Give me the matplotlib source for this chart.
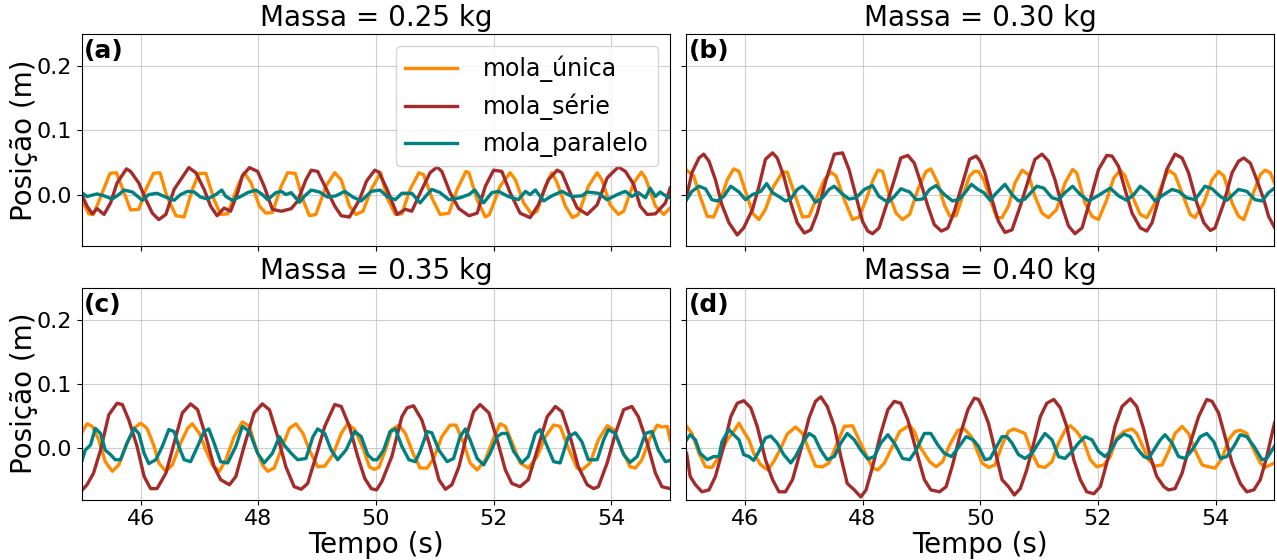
import matplotlib
matplotlib.use('Agg')
import matplotlib.pyplot as plt
import numpy as np

# valores: (tempo em s, posicao em m)
massas = ['0.25', '0.30', '0.35', '0.40']
letras = ['(a)', '(b)', '(c)', '(d)']
nomes = ['mola_única', 'mola_série', 'mola_paralelo']
cores = ['#FF8C00', '#A52A2A', '#008080']

a_unica = np.array([
    (45.00, -0.008), (45.12, -0.030), (45.20, -0.031), (45.35, 0.003), (45.48, 0.033), (45.59, 0.034),
    (45.72, 0.003), (45.83, -0.024), (45.97, -0.023), (46.09, 0.008), (46.22, 0.033), (46.33, 0.034),
    (46.45, -0.003), (46.60, -0.033), (46.74, -0.035), (46.88, 0.008), (46.99, 0.033), (47.11, 0.033),
    (47.25, -0.008), (47.36, -0.031), (47.48, -0.030), (47.65, 0.013), (47.76, 0.034), (47.88, 0.018),
    (48.02, -0.018), (48.13, -0.029), (48.24, -0.028), (48.39, 0.013), (48.50, 0.034), (48.63, 0.033),
    (48.76, -0.008), (48.87, -0.033), (48.98, -0.031), (49.15, 0.013), (49.30, 0.034), (49.41, 0.023),
    (49.55, -0.018), (49.66, -0.031), (49.78, -0.026), (49.92, 0.008), (50.08, 0.034), (50.19, -0.005),
    (50.33, -0.031), (50.44, -0.030), (50.58, 0.008), (50.73, 0.034), (50.81, 0.031), (50.95, -0.005),
    (51.09, -0.031), (51.24, -0.029), (51.38, 0.008), (51.53, 0.036), (51.58, 0.034), (51.72, -0.008),
    (51.86, -0.035), (51.93, -0.031), (52.11, 0.013), (52.28, 0.034), (52.37, 0.023), (52.51, -0.013),
    (52.65, -0.031), (52.74, -0.026), (52.88, 0.013), (52.99, 0.034), (53.08, 0.018), (53.22, -0.018),
    (53.34, -0.036), (53.44, -0.031), (53.61, 0.013), (53.76, 0.034), (53.84, 0.023), (53.98, -0.016),
    (54.12, -0.031), (54.21, -0.026), (54.38, 0.018), (54.51, 0.035), (54.58, 0.026), (54.75, -0.018),
    (54.89, -0.031), (55.00, -0.021)])

a_serie = np.array([
    (45.00, 0.000), (45.09, -0.018), (45.18, -0.030), (45.26, -0.022), (45.38, -0.031), (45.49, -0.013),
    (45.60, 0.018), (45.76, 0.040), (45.83, 0.036), (45.97, 0.018), (46.09, -0.008), (46.20, -0.029),
    (46.31, -0.039), (46.43, -0.031), (46.57, 0.008), (46.68, 0.023), (46.82, 0.042), (46.94, 0.034),
    (47.08, 0.008), (47.19, -0.018), (47.30, -0.033), (47.42, -0.021), (47.53, -0.026), (47.65, 0.003),
    (47.73, 0.029), (47.85, 0.042), (47.99, 0.036), (48.10, 0.013), (48.24, -0.023), (48.39, -0.026),
    (48.56, -0.022), (48.67, -0.010), (48.81, 0.023), (48.90, 0.038), (49.01, 0.036), (49.15, 0.010),
    (49.30, -0.018), (49.41, -0.033), (49.55, -0.035), (49.72, -0.008), (49.84, 0.021), (49.98, 0.038),
    (50.05, 0.035), (50.19, 0.008), (50.36, -0.031), (50.50, -0.023), (50.61, -0.026), (50.78, 0.008),
    (50.92, 0.034), (51.04, 0.043), (51.12, 0.036), (51.26, 0.003), (51.41, -0.022), (51.58, -0.033),
    (51.72, -0.029), (51.86, 0.013), (52.00, 0.038), (52.14, 0.036), (52.28, 0.003), (52.45, -0.029),
    (52.62, -0.036), (52.76, -0.016), (52.93, 0.023), (53.08, 0.038), (53.16, 0.034), (53.30, 0.003),
    (53.42, -0.021), (53.59, -0.031), (53.76, -0.016), (53.93, 0.026), (54.12, 0.043), (54.24, 0.036),
    (54.38, 0.016), (54.49, -0.018), (54.61, -0.031), (54.75, -0.030), (54.92, -0.013), (55.00, 0.010)])

a_paralelo = np.array([
    (45.00, 0.003), (45.09, -0.003), (45.26, 0.001), (45.38, -0.002), (45.52, -0.007), (45.63, 0.000),
    (45.72, 0.007), (45.86, 0.004), (46.03, -0.009), (46.14, 0.000), (46.28, 0.002), (46.43, -0.004),
    (46.57, -0.009), (46.68, 0.000), (46.80, 0.005), (46.91, 0.004), (47.02, -0.004), (47.14, -0.007),
    (47.28, 0.000), (47.38, 0.007), (47.45, -0.003), (47.56, -0.009), (47.70, -0.003), (47.82, 0.003),
    (47.96, 0.007), (48.07, 0.000), (48.16, -0.008), (48.30, 0.003), (48.39, 0.005), (48.47, 0.000),
    (48.56, 0.003), (48.70, -0.012), (48.78, -0.003), (48.90, 0.007), (49.04, 0.004), (49.18, -0.004),
    (49.32, -0.002), (49.47, 0.005), (49.61, -0.004), (49.75, -0.010), (49.92, 0.005), (50.07, 0.007),
    (50.19, -0.003), (50.33, -0.008), (50.44, 0.002), (50.61, 0.002), (50.75, -0.013), (50.87, 0.000),
    (50.95, 0.008), (51.09, 0.003), (51.24, -0.008), (51.43, -0.005), (51.58, 0.000), (51.68, 0.007),
    (51.83, -0.013), (51.97, 0.003), (52.08, 0.005), (52.25, -0.003), (52.42, -0.008), (52.54, 0.005),
    (52.62, 0.000), (52.71, 0.007), (52.85, -0.010), (52.99, -0.002), (53.16, 0.005), (53.33, -0.003),
    (53.50, -0.002), (53.59, 0.004), (53.78, 0.002), (53.93, -0.008), (54.10, 0.000), (54.24, 0.005),
    (54.35, -0.003), (54.46, 0.003), (54.58, -0.005), (54.66, 0.010), (54.75, -0.003), (54.83, 0.004),
    (54.97, -0.005), (55.00, -0.004)])

b_unica = np.array([
    (45.01, 0.038), (45.13, 0.029), (45.24, -0.003), (45.36, -0.034), (45.47, -0.035), (45.59, -0.008),
    (45.70, 0.023), (45.81, 0.040), (45.90, 0.036), (46.04, -0.003), (46.13, -0.029), (46.24, -0.039),
    (46.35, -0.023), (46.49, 0.013), (46.64, 0.035), (46.72, 0.035), (46.86, -0.003), (46.98, -0.035),
    (47.09, -0.034), (47.23, -0.003), (47.35, 0.023), (47.46, 0.035), (47.55, 0.029), (47.69, -0.008),
    (47.83, -0.039), (47.94, -0.035), (48.06, -0.008), (48.17, 0.021), (48.26, 0.038), (48.34, 0.036),
    (48.45, 0.000), (48.57, -0.029), (48.68, -0.039), (48.80, -0.031), (48.94, 0.008), (49.08, 0.036),
    (49.16, 0.040), (49.28, 0.018), (49.39, -0.016), (49.48, -0.033), (49.59, -0.033), (49.70, -0.003),
    (49.82, 0.029), (49.90, 0.036), (49.97, 0.036), (50.06, 0.023), (50.17, -0.008), (50.28, -0.036),
    (50.37, -0.036), (50.48, -0.018), (50.59, 0.018), (50.71, 0.038), (50.82, 0.031), (50.93, -0.003),
    (51.05, -0.029), (51.16, -0.036), (51.30, -0.023), (51.44, 0.018), (51.57, 0.039), (51.64, 0.034),
    (51.78, -0.013), (51.90, -0.034), (52.01, -0.039), (52.15, -0.008), (52.27, 0.026), (52.38, 0.038),
    (52.46, 0.029), (52.61, -0.008), (52.72, -0.031), (52.83, -0.036), (52.97, -0.013), (53.12, 0.023),
    (53.20, 0.038), (53.31, 0.031), (53.46, -0.005), (53.57, -0.031), (53.65, -0.036), (53.80, -0.013),
    (53.94, 0.023), (54.05, 0.036), (54.14, 0.029), (54.28, -0.013), (54.39, -0.034), (54.48, -0.039),
    (54.62, -0.003), (54.76, 0.031), (54.84, 0.038), (54.93, 0.034), (55.00, 0.018)])

b_serie = np.array([
    (45.01, -0.003), (45.10, 0.034), (45.22, 0.057), (45.30, 0.063), (45.39, 0.052), (45.50, 0.023),
    (45.61, -0.016), (45.73, -0.044), (45.87, -0.063), (45.98, -0.052), (46.13, -0.023), (46.24, 0.013),
    (46.35, 0.055), (46.47, 0.065), (46.55, 0.057), (46.66, 0.029), (46.78, -0.013), (46.89, -0.044),
    (47.01, -0.060), (47.12, -0.055), (47.23, -0.029), (47.38, 0.023), (47.52, 0.063), (47.66, 0.065),
    (47.77, 0.039), (47.89, -0.003), (48.00, -0.042), (48.09, -0.057), (48.17, -0.061), (48.28, -0.052),
    (48.40, -0.018), (48.54, 0.023), (48.65, 0.057), (48.77, 0.061), (48.88, 0.049), (48.99, 0.018),
    (49.11, -0.018), (49.22, -0.047), (49.34, -0.057), (49.45, -0.052), (49.56, -0.026), (49.70, 0.018),
    (49.82, 0.055), (49.93, 0.060), (50.00, 0.052), (50.08, 0.034), (50.20, -0.008), (50.31, -0.042),
    (50.42, -0.059), (50.54, -0.055), (50.68, -0.018), (50.82, 0.023), (50.93, 0.055), (51.05, 0.063),
    (51.16, 0.052), (51.27, 0.023), (51.39, -0.018), (51.50, -0.049), (51.61, -0.061), (51.73, -0.052),
    (51.87, -0.008), (52.01, 0.039), (52.15, 0.061), (52.24, 0.060), (52.35, 0.044), (52.46, 0.008),
    (52.58, -0.029), (52.72, -0.052), (52.83, -0.057), (52.92, -0.044), (53.03, -0.008), (53.17, 0.039),
    (53.31, 0.063), (53.43, 0.057), (53.54, 0.034), (53.68, -0.013), (53.80, -0.044), (53.91, -0.056),
    (53.99, -0.052), (54.14, -0.013), (54.28, 0.034), (54.39, 0.052), (54.48, 0.057), (54.59, 0.049),
    (54.70, 0.023), (54.82, -0.008), (54.90, -0.034), (55.00, -0.051)])

b_paralelo = np.array([
    (45.01, -0.008), (45.10, 0.005), (45.22, 0.013), (45.33, 0.009), (45.44, -0.008), (45.53, -0.010),
    (45.64, -0.003), (45.76, 0.013), (45.90, 0.004), (46.01, -0.008), (46.13, 0.000), (46.27, 0.005),
    (46.37, 0.017), (46.47, 0.003), (46.61, -0.005), (46.69, -0.010), (46.78, -0.007), (46.89, 0.008),
    (46.98, 0.013), (47.09, 0.003), (47.20, -0.012), (47.32, -0.005), (47.43, 0.008), (47.52, 0.013),
    (47.63, 0.003), (47.77, -0.007), (47.89, -0.005), (48.03, 0.008), (48.17, 0.014), (48.28, -0.003),
    (48.43, -0.012), (48.54, -0.003), (48.65, 0.009), (48.80, 0.004), (48.91, -0.008), (49.02, -0.007),
    (49.14, 0.008), (49.25, 0.014), (49.39, 0.000), (49.53, -0.010), (49.65, -0.007), (49.76, 0.005),
    (49.85, 0.016), (49.96, 0.008), (50.06, 0.003), (50.17, -0.009), (50.25, 0.000), (50.42, 0.016),
    (50.54, 0.000), (50.65, -0.010), (50.76, -0.007), (50.96, 0.013), (51.08, 0.010), (51.22, -0.005),
    (51.33, -0.008), (51.44, 0.003), (51.57, 0.013), (51.70, 0.000), (51.84, -0.010), (51.98, -0.003),
    (52.12, 0.005), (52.21, 0.010), (52.35, -0.002), (52.49, -0.009), (52.61, 0.000), (52.72, 0.013),
    (52.86, 0.003), (52.97, -0.010), (53.12, 0.000), (53.26, 0.008), (53.37, 0.005), (53.51, -0.005),
    (53.65, -0.008), (53.82, 0.013), (53.94, 0.009), (54.08, -0.003), (54.19, -0.009), (54.39, 0.008),
    (54.53, 0.005), (54.67, -0.008), (54.79, -0.010), (54.90, 0.003), (55.00, 0.010)])

c_unica = np.array([
    (45.01, 0.026), (45.09, 0.038), (45.18, 0.034), (45.29, 0.013), (45.40, -0.021), (45.52, -0.036),
    (45.63, -0.026), (45.77, 0.008), (45.89, 0.031), (46.00, 0.039), (46.11, 0.031), (46.23, 0.003),
    (46.31, -0.023), (46.43, -0.036), (46.54, -0.026), (46.68, 0.008), (46.80, 0.031), (46.88, 0.038),
    (47.00, 0.023), (47.11, -0.003), (47.22, -0.026), (47.34, -0.036), (47.45, -0.018), (47.59, 0.018),
    (47.73, 0.041), (47.85, 0.034), (47.96, 0.000), (48.07, -0.026), (48.16, -0.036), (48.27, -0.031),
    (48.41, 0.003), (48.53, 0.031), (48.64, 0.038), (48.76, 0.023), (48.87, -0.003), (49.01, -0.029),
    (49.13, -0.028), (49.27, -0.010), (49.41, 0.023), (49.52, 0.038), (49.64, 0.029), (49.78, 0.000),
    (49.89, -0.029), (49.97, -0.033), (50.05, -0.030), (50.16, -0.003), (50.27, 0.029), (50.39, 0.036),
    (50.50, 0.023), (50.64, -0.010), (50.75, -0.031), (50.87, -0.031), (50.98, -0.016), (51.12, 0.018),
    (51.26, 0.036), (51.36, 0.036), (51.49, 0.008), (51.60, -0.023), (51.72, -0.034), (51.86, -0.018),
    (52.00, 0.016), (52.11, 0.038), (52.20, 0.034), (52.34, 0.003), (52.45, -0.023), (52.59, -0.031),
    (52.74, -0.013), (52.88, 0.018), (53.02, 0.036), (53.13, 0.034), (53.27, 0.000), (53.42, -0.031),
    (53.50, -0.034), (53.64, -0.023), (53.78, 0.013), (53.93, 0.035), (54.04, 0.029), (54.18, -0.003),
    (54.32, -0.029), (54.41, -0.031), (54.52, -0.018), (54.66, 0.016), (54.78, 0.036), (54.86, 0.033),
    (54.95, 0.034), (55.00, 0.013)])

c_serie = np.array([
    (45.01, -0.065), (45.09, -0.057), (45.20, -0.039), (45.32, -0.003), (45.46, 0.052), (45.60, 0.070),
    (45.69, 0.068), (45.80, 0.044), (45.94, 0.003), (46.06, -0.044), (46.17, -0.063), (46.28, -0.063),
    (46.43, -0.039), (46.57, 0.008), (46.71, 0.055), (46.85, 0.069), (46.97, 0.060), (47.11, 0.018),
    (47.25, -0.029), (47.36, -0.049), (47.51, -0.057), (47.62, -0.044), (47.76, 0.003), (47.93, 0.055),
    (48.07, 0.069), (48.19, 0.060), (48.33, 0.018), (48.47, -0.029), (48.61, -0.060), (48.73, -0.064),
    (48.84, -0.055), (48.98, -0.013), (49.13, 0.034), (49.30, 0.068), (49.41, 0.065), (49.55, 0.034),
    (49.69, -0.013), (49.81, -0.047), (49.92, -0.063), (50.01, -0.065), (50.10, -0.052), (50.27, -0.013),
    (50.44, 0.049), (50.53, 0.063), (50.64, 0.066), (50.78, 0.044), (50.92, 0.003), (51.07, -0.049),
    (51.18, -0.064), (51.29, -0.057), (51.41, -0.029), (51.55, 0.023), (51.66, 0.057), (51.77, 0.068),
    (51.92, 0.055), (52.06, 0.013), (52.20, -0.034), (52.31, -0.055), (52.45, -0.060), (52.59, -0.049),
    (52.76, 0.003), (52.91, 0.049), (53.05, 0.065), (53.16, 0.057), (53.30, 0.018), (53.44, -0.029),
    (53.59, -0.057), (53.70, -0.063), (53.78, -0.060), (53.93, -0.023), (54.07, 0.023), (54.21, 0.060),
    (54.35, 0.065), (54.46, 0.049), (54.61, 0.008), (54.75, -0.039), (54.86, -0.060), (55.00, -0.063)])

c_paralelo = np.array([
    (45.01, -0.018), (45.06, -0.003), (45.15, 0.005), (45.23, 0.031), (45.32, 0.023), (45.40, -0.003),
    (45.49, -0.010), (45.57, -0.018), (45.66, -0.018), (45.77, 0.008), (45.89, 0.031), (45.97, 0.023),
    (46.06, -0.008), (46.14, -0.024), (46.26, -0.018), (46.37, 0.003), (46.48, 0.029), (46.57, 0.026),
    (46.65, 0.003), (46.74, -0.018), (46.85, -0.021), (46.97, 0.003), (47.08, 0.026), (47.16, 0.030),
    (47.25, 0.008), (47.36, -0.021), (47.48, -0.023), (47.62, 0.003), (47.73, 0.034), (47.85, 0.026),
    (47.99, -0.008), (48.10, -0.023), (48.24, -0.008), (48.36, 0.018), (48.44, 0.005), (48.56, -0.008),
    (48.67, -0.018), (48.81, -0.016), (48.93, 0.018), (49.01, 0.030), (49.13, 0.023), (49.24, -0.003),
    (49.35, -0.018), (49.49, -0.003), (49.64, 0.026), (49.75, 0.018), (49.86, -0.010), (49.95, -0.018),
    (50.02, -0.018), (50.13, -0.003), (50.24, 0.026), (50.33, 0.030), (50.44, 0.003), (50.56, -0.018),
    (50.67, -0.021), (50.75, -0.005), (50.87, 0.026), (50.95, 0.024), (51.07, -0.003), (51.21, -0.021),
    (51.32, -0.016), (51.43, 0.018), (51.52, 0.030), (51.60, 0.013), (51.72, -0.016), (51.83, -0.026),
    (51.94, -0.008), (52.06, 0.018), (52.14, 0.023), (52.23, 0.023), (52.34, -0.005), (52.48, -0.023),
    (52.59, -0.013), (52.71, 0.023), (52.79, 0.029), (52.91, 0.003), (53.02, -0.021), (53.13, -0.023),
    (53.27, 0.018), (53.39, 0.024), (53.50, 0.010), (53.61, -0.018), (53.76, -0.018), (53.87, 0.013),
    (53.95, 0.029), (54.07, 0.023), (54.21, -0.010), (54.32, -0.022), (54.44, -0.013), (54.58, 0.023),
    (54.69, 0.026), (54.80, -0.003), (54.92, -0.021), (55.00, -0.019)])

d_unica = np.array([
    (45.01, 0.034), (45.10, 0.023), (45.22, -0.008), (45.33, -0.029), (45.44, -0.030), (45.56, -0.013),
    (45.70, 0.013), (45.81, 0.026), (45.90, 0.039), (45.98, 0.026), (46.07, 0.013), (46.15, -0.008),
    (46.27, -0.026), (46.39, -0.034), (46.49, -0.021), (46.61, 0.000), (46.72, 0.022), (46.86, 0.033),
    (46.98, 0.023), (47.09, -0.003), (47.20, -0.028), (47.32, -0.029), (47.43, -0.023), (47.57, 0.008),
    (47.69, 0.034), (47.83, 0.035), (47.94, 0.013), (48.06, -0.010), (48.17, -0.031), (48.26, -0.034),
    (48.37, -0.023), (48.51, 0.003), (48.63, 0.026), (48.80, 0.036), (48.88, 0.026), (48.99, 0.000),
    (49.14, -0.021), (49.25, -0.029), (49.36, -0.021), (49.48, 0.005), (49.62, 0.028), (49.73, 0.030),
    (49.85, 0.018), (49.93, 0.000), (50.03, -0.023), (50.14, -0.030), (50.25, -0.026), (50.37, 0.005),
    (50.48, 0.026), (50.57, 0.030), (50.68, 0.026), (50.76, 0.023), (50.88, -0.008), (50.99, -0.028),
    (51.10, -0.030), (51.22, -0.021), (51.33, 0.008), (51.45, 0.029), (51.53, 0.035), (51.64, 0.026),
    (51.76, 0.010), (51.87, -0.018), (51.98, -0.029), (52.10, -0.026), (52.21, -0.013), (52.32, 0.016),
    (52.44, 0.026), (52.58, 0.030), (52.66, 0.023), (52.75, 0.005), (52.86, -0.018), (52.97, -0.028),
    (53.09, -0.026), (53.20, -0.005), (53.31, 0.023), (53.43, 0.034), (53.54, 0.023), (53.65, -0.003),
    (53.77, -0.026), (53.88, -0.029), (53.99, -0.031), (54.11, -0.016), (54.22, 0.013), (54.33, 0.026),
    (54.42, 0.028), (54.53, 0.023), (54.65, -0.003), (54.76, -0.023), (54.84, -0.030), (55.00, -0.023)])

d_serie = np.array([
    (45.01, -0.008), (45.07, -0.044), (45.16, -0.057), (45.27, -0.068), (45.39, -0.065), (45.50, -0.044),
    (45.64, 0.003), (45.76, 0.049), (45.87, 0.070), (45.98, 0.074), (46.10, 0.063), (46.21, 0.034),
    (46.35, -0.018), (46.47, -0.049), (46.58, -0.068), (46.69, -0.068), (46.81, -0.049), (46.95, -0.003),
    (47.09, 0.047), (47.20, 0.073), (47.29, 0.080), (47.40, 0.065), (47.52, 0.034), (47.63, -0.013),
    (47.74, -0.055), (47.86, -0.065), (47.97, -0.076), (48.06, -0.065), (48.17, -0.029), (48.31, 0.023),
    (48.43, 0.060), (48.54, 0.073), (48.65, 0.070), (48.77, 0.044), (48.91, -0.003), (49.05, -0.049),
    (49.16, -0.065), (49.31, -0.068), (49.42, -0.060), (49.53, -0.026), (49.65, 0.018), (49.79, 0.060),
    (49.90, 0.078), (49.97, 0.076), (50.03, 0.065), (50.14, 0.039), (50.25, -0.003), (50.37, -0.049),
    (50.48, -0.060), (50.58, -0.073), (50.68, -0.063), (50.79, -0.034), (50.91, 0.008), (51.02, 0.049),
    (51.13, 0.070), (51.25, 0.076), (51.36, 0.063), (51.47, 0.034), (51.59, -0.018), (51.70, -0.049),
    (51.81, -0.068), (51.93, -0.071), (52.04, -0.060), (52.18, -0.013), (52.29, 0.034), (52.41, 0.065),
    (52.55, 0.077), (52.66, 0.065), (52.78, 0.029), (52.89, -0.013), (53.00, -0.044), (53.12, -0.060),
    (53.20, -0.065), (53.31, -0.063), (53.43, -0.039), (53.57, 0.008), (53.71, 0.049), (53.85, 0.076),
    (53.94, 0.073), (54.05, 0.055), (54.16, 0.018), (54.28, -0.023), (54.42, -0.055), (54.53, -0.068),
    (54.65, -0.065), (54.76, -0.049), (54.87, -0.013), (55.00, 0.039)])

d_paralelo = np.array([
    (45.01, 0.013), (45.07, 0.021), (45.16, 0.013), (45.24, -0.008), (45.36, -0.018), (45.47, -0.013),
    (45.56, -0.013), (45.61, 0.010), (45.73, 0.029), (45.81, 0.021), (45.90, 0.013), (45.98, -0.010),
    (46.07, -0.013), (46.15, -0.019), (46.24, -0.005), (46.35, 0.016), (46.44, 0.019), (46.55, 0.008),
    (46.66, -0.010), (46.78, -0.023), (46.86, -0.013), (46.98, 0.008), (47.09, 0.023), (47.18, 0.018),
    (47.29, -0.003), (47.40, -0.018), (47.52, -0.013), (47.63, 0.008), (47.74, 0.023), (47.86, 0.013),
    (47.97, -0.003), (48.09, -0.017), (48.20, -0.013), (48.31, 0.008), (48.43, 0.021), (48.54, 0.008),
    (48.68, -0.016), (48.80, -0.018), (48.91, -0.003), (49.05, 0.023), (49.16, 0.023), (49.28, 0.005),
    (49.39, -0.008), (49.51, -0.013), (49.62, 0.000), (49.76, 0.018), (49.88, 0.013), (49.97, 0.003),
    (50.08, -0.018), (50.17, -0.016), (50.28, 0.003), (50.37, 0.018), (50.45, 0.018), (50.54, 0.008),
    (50.65, -0.010), (50.76, -0.016), (50.88, -0.008), (50.99, 0.008), (51.10, 0.023), (51.22, 0.013),
    (51.33, -0.013), (51.44, -0.016), (51.56, -0.005), (51.67, 0.008), (51.78, 0.018), (51.90, 0.013),
    (52.01, -0.005), (52.12, -0.013), (52.21, -0.005), (52.32, 0.013), (52.44, 0.022), (52.55, 0.018),
    (52.66, 0.000), (52.78, -0.013), (52.86, -0.016), (52.97, 0.000), (53.06, 0.013), (53.14, 0.021),
    (53.26, 0.008), (53.37, -0.013), (53.48, -0.016), (53.60, -0.003), (53.74, 0.018), (53.85, 0.023),
    (53.97, 0.010), (54.08, -0.016), (54.19, -0.013), (54.31, 0.003), (54.42, 0.021), (54.53, 0.018),
    (54.65, 0.003), (54.79, -0.018), (54.87, -0.016), (55.00, 0.003)])

paineis = [
    [a_unica, a_serie, a_paralelo],
    [b_unica, b_serie, b_paralelo],
    [c_unica, c_serie, c_paralelo],
    [d_unica, d_serie, d_paralelo],
]

fig, axs = plt.subplots(2, 2, figsize=(12.77, 5.6), dpi=100, sharex=True, sharey=True)
fig.subplots_adjust(left=0.064, right=0.998, top=0.939, bottom=0.108, wspace=0.027, hspace=0.198)

for k, ax in enumerate(axs.flat):
    for serie, cor, nome in zip(paineis[k], cores, nomes):
        ax.plot(serie[:, 0], serie[:, 1], color=cor, lw=2.4, label=nome)
    ax.set_title('Massa = ' + massas[k] + ' kg', fontsize=20)
    ax.text(0.004, 0.975, letras[k], transform=ax.transAxes, fontsize=18,
            fontweight='bold', va='top', ha='left')
    ax.grid(True, color='#b0b0b0', alpha=0.6, lw=0.8)
    ax.tick_params(labelsize=16)

axs[0, 0].set_xlim(45, 55)
axs[0, 0].set_ylim(-0.08, 0.25)
axs[0, 0].set_xticks([46, 48, 50, 52, 54])
axs[0, 0].set_yticks([0.0, 0.1, 0.2])

for ax in axs[:, 0]:
    ax.set_ylabel('Posição (m)', fontsize=20, labelpad=-1)
for ax in axs[1, :]:
    ax.set_xlabel('Tempo (s)', fontsize=20, labelpad=1)

axs[0, 0].legend(loc='upper right', fontsize=17, handlelength=2.2, handletextpad=1.1)

plt.savefig('out.png', dpi=100)
